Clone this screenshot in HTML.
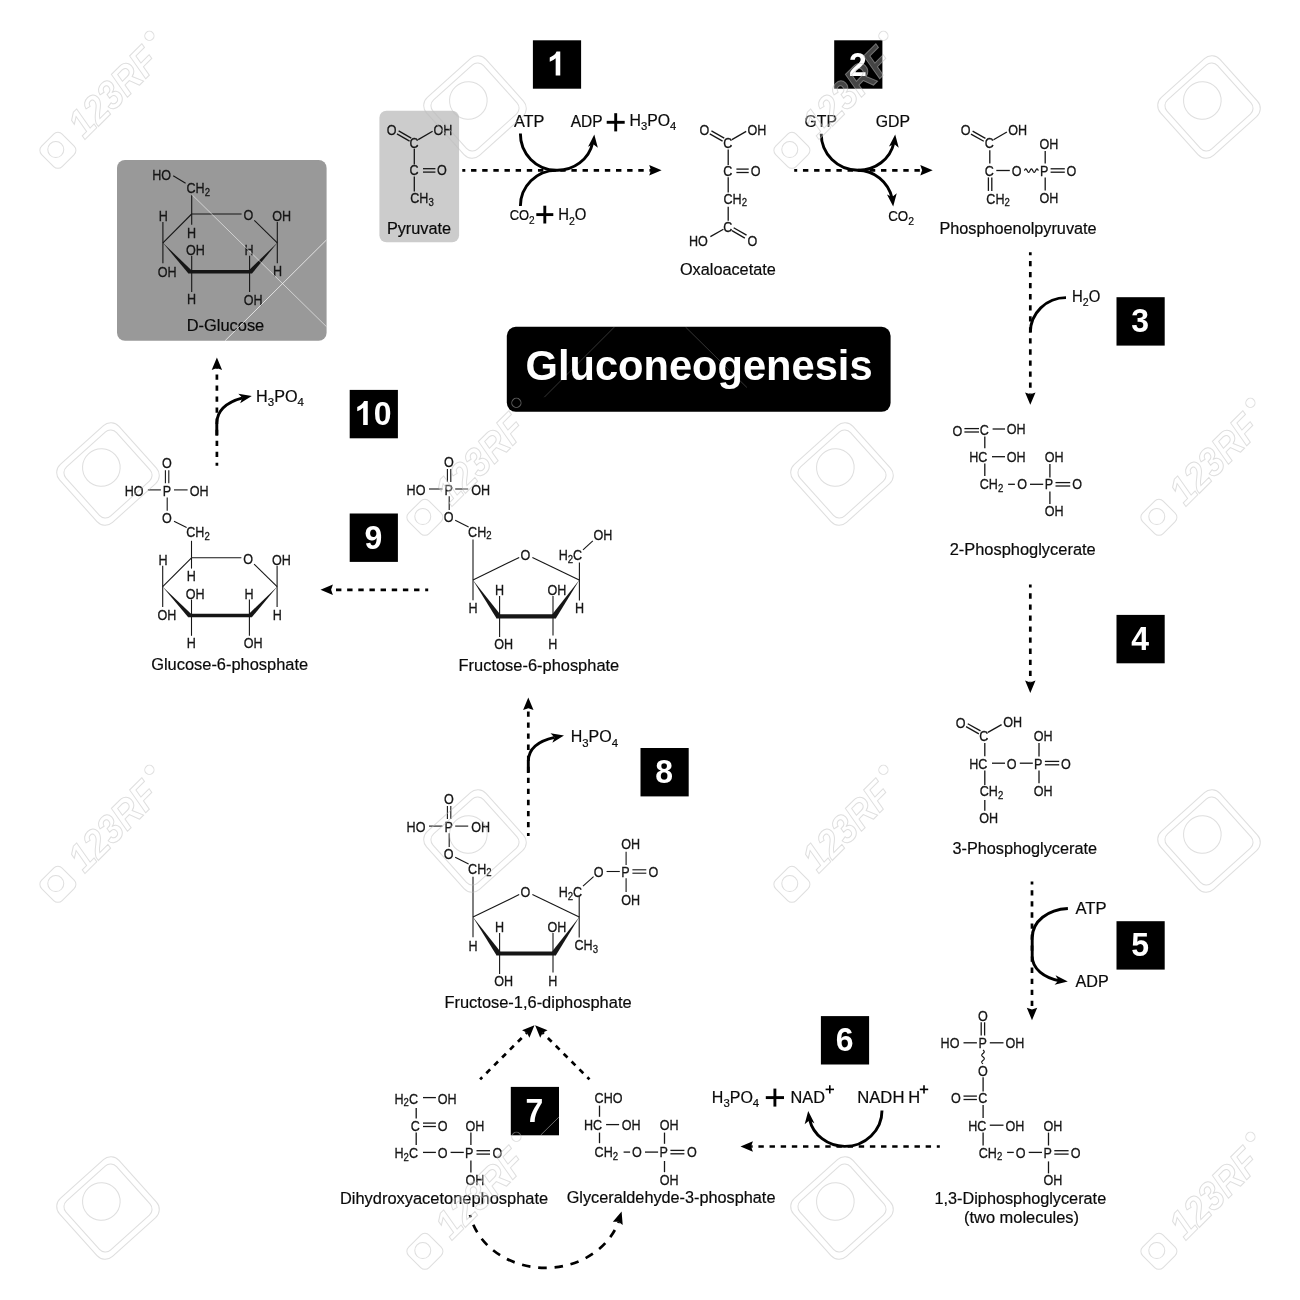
<!DOCTYPE html>
<html><head><meta charset="utf-8"><title>Gluconeogenesis</title>
<style>
html,body{margin:0;padding:0;background:#fff}
svg{display:block;filter:grayscale(1)}
text{font-family:"Liberation Sans",sans-serif;white-space:pre}
</style></head><body>
<svg width="1300" height="1300" viewBox="0 0 1300 1300">
<rect width="1300" height="1300" fill="#fff"/>
<rect x="117" y="160" width="209.6" height="180.8" rx="8" fill="#999"/>
<rect x="379.4" y="110.7" width="79.7" height="131.5" rx="7" fill="#ccc"/>
<rect x="506.8" y="326.8" width="383.8" height="85" rx="9" fill="#000"/>
<text transform="translate(525.54,379.6) scale(0.98,1)" font-size="42.5" fill="#fff" font-weight="bold"><tspan>Gluconeogenesis</tspan></text>
<rect x="532.9" y="40.3" width="48.2" height="48.4" fill="#000"/>
<path d="M560.27 75.5 H555.67 V58.18 Q553.16 60.53 549.74 61.66 V57.49 Q551.54 56.9 553.65 55.27 Q555.76 53.61 556.54 51.42 H560.27 Z" fill="#fff"/>
<rect x="834.2" y="40.3" width="48.2" height="48.4" fill="#000"/>
<text transform="translate(848.95,75.5) scale(0.94,1)" font-size="34" font-weight="bold" fill="#fff">2</text>
<rect x="1116.5" y="297.2" width="48.2" height="48.4" fill="#000"/>
<text transform="translate(1131.25,332.4) scale(0.94,1)" font-size="34" font-weight="bold" fill="#fff">3</text>
<rect x="1116.5" y="614.9" width="48.2" height="48.4" fill="#000"/>
<text transform="translate(1131.25,650.1) scale(0.94,1)" font-size="34" font-weight="bold" fill="#fff">4</text>
<rect x="1116.5" y="921.2" width="48.2" height="48.4" fill="#000"/>
<text transform="translate(1131.25,956.4) scale(0.94,1)" font-size="34" font-weight="bold" fill="#fff">5</text>
<rect x="820.9" y="1016.1" width="48.2" height="48.4" fill="#000"/>
<text transform="translate(835.65,1051.3) scale(0.94,1)" font-size="34" font-weight="bold" fill="#fff">6</text>
<rect x="510.8" y="1086.9" width="48.2" height="48.4" fill="#000"/>
<text transform="translate(525.55,1122.1) scale(0.94,1)" font-size="34" font-weight="bold" fill="#fff">7</text>
<rect x="640.5" y="748" width="48.2" height="48.4" fill="#000"/>
<text transform="translate(655.25,783.2) scale(0.94,1)" font-size="34" font-weight="bold" fill="#fff">8</text>
<rect x="349.7" y="513.5" width="48.2" height="48.4" fill="#000"/>
<text transform="translate(364.45,548.7) scale(0.94,1)" font-size="34" font-weight="bold" fill="#fff">9</text>
<rect x="349.7" y="389.9" width="48.2" height="48.4" fill="#000"/>
<path d="M367.76 425.1 H363.16 V407.78 Q360.64 410.13 357.22 411.26 V407.09 Q359.02 406.5 361.13 404.87 Q363.24 403.21 364.03 401.02 H367.76 Z" fill="#fff"/>
<text transform="translate(373.76,425.1) scale(0.94,1)" font-size="34" font-weight="bold" fill="#fff">0</text>
<line x1="191.7" y1="214" x2="241.6" y2="214" stroke="#161616" stroke-width="1.1"/>
<line x1="254.3" y1="220.3" x2="277.3" y2="242.9" stroke="#161616" stroke-width="1.1"/>
<line x1="162.9" y1="242.9" x2="191.7" y2="214" stroke="#161616" stroke-width="1.1"/>
<text transform="translate(243.53,220.29) scale(0.85,1)" font-size="14.8" fill="#161616" stroke="#161616" stroke-width="0.3"><tspan>O</tspan></text>
<polygon points="162.6,242.6 191.2,269.9 188.4,273.5" fill="#161616"/>
<polygon points="277.6,242.6 249.2,269.9 252,273.5" fill="#161616"/>
<line x1="188.4" y1="271.7" x2="252" y2="271.7" stroke="#161616" stroke-width="3.6"/>
<line x1="191.7" y1="214" x2="191.7" y2="224.8" stroke="#161616" stroke-width="1.1"/>
<text transform="translate(186.89,237.69) scale(0.85,1)" font-size="14.8" fill="#161616" stroke="#161616" stroke-width="0.3"><tspan>H</tspan></text>
<line x1="277.3" y1="221.9" x2="277.3" y2="263.2" stroke="#161616" stroke-width="1.1"/>
<text transform="translate(272.13,220.99) scale(0.85,1)" font-size="14.8" fill="#161616" stroke="#161616" stroke-width="0.3"><tspan>OH</tspan></text>
<text transform="translate(272.99,275.89) scale(0.85,1)" font-size="14.8" fill="#161616" stroke="#161616" stroke-width="0.3"><tspan>H</tspan></text>
<line x1="162.9" y1="221.9" x2="162.9" y2="263.2" stroke="#161616" stroke-width="1.1"/>
<text transform="translate(158.69,221.19) scale(0.85,1)" font-size="14.8" fill="#161616" stroke="#161616" stroke-width="0.3"><tspan>H</tspan></text>
<text transform="translate(157.73,276.69) scale(0.85,1)" font-size="14.8" fill="#161616" stroke="#161616" stroke-width="0.3"><tspan>OH</tspan></text>
<line x1="191.7" y1="255.7" x2="191.7" y2="292" stroke="#161616" stroke-width="1.1"/>
<text transform="translate(186.03,255.29) scale(0.85,1)" font-size="14.8" fill="#161616" stroke="#161616" stroke-width="0.3"><tspan>OH</tspan></text>
<text transform="translate(186.89,304.39) scale(0.85,1)" font-size="14.8" fill="#161616" stroke="#161616" stroke-width="0.3"><tspan>H</tspan></text>
<line x1="249.6" y1="255.7" x2="249.6" y2="292" stroke="#161616" stroke-width="1.1"/>
<text transform="translate(244.59,255.49) scale(0.85,1)" font-size="14.8" fill="#161616" stroke="#161616" stroke-width="0.3"><tspan>H</tspan></text>
<text transform="translate(243.83,304.69) scale(0.85,1)" font-size="14.8" fill="#161616" stroke="#161616" stroke-width="0.3"><tspan>OH</tspan></text>
<line x1="191.7" y1="195.2" x2="191.7" y2="214" stroke="#161616" stroke-width="1.1"/>
<text transform="translate(186.47,193.39) scale(0.85,1)" font-size="14.8" fill="#161616" stroke="#161616" stroke-width="0.3"><tspan>CH</tspan><tspan dy="2.52" font-size="11.25">2</tspan></text>
<line x1="173.2" y1="175.7" x2="185.6" y2="183.2" stroke="#161616" stroke-width="1.1"/>
<text transform="translate(152.29,179.69) scale(0.85,1)" font-size="14.8" fill="#161616" stroke="#161616" stroke-width="0.3"><tspan>HO</tspan></text>
<text transform="translate(186.69,330.7) scale(0.99,1)" font-size="16.6" fill="#0a0a0a" stroke="#0a0a0a" stroke-width="0.2"><tspan>D-Glucose</tspan></text>
<line x1="191.5" y1="557.8" x2="241.4" y2="557.8" stroke="#161616" stroke-width="1.1"/>
<line x1="254.1" y1="564.1" x2="277.1" y2="586.7" stroke="#161616" stroke-width="1.1"/>
<line x1="162.7" y1="586.7" x2="191.5" y2="557.8" stroke="#161616" stroke-width="1.1"/>
<text transform="translate(243.33,564.09) scale(0.85,1)" font-size="14.8" fill="#161616" stroke="#161616" stroke-width="0.3"><tspan>O</tspan></text>
<polygon points="162.4,586.4 191,613.7 188.2,617.3" fill="#161616"/>
<polygon points="277.4,586.4 249,613.7 251.8,617.3" fill="#161616"/>
<line x1="188.2" y1="615.5" x2="251.8" y2="615.5" stroke="#161616" stroke-width="3.6"/>
<line x1="191.5" y1="557.8" x2="191.5" y2="568.6" stroke="#161616" stroke-width="1.1"/>
<text transform="translate(186.69,581.49) scale(0.85,1)" font-size="14.8" fill="#161616" stroke="#161616" stroke-width="0.3"><tspan>H</tspan></text>
<line x1="277.1" y1="565.7" x2="277.1" y2="607" stroke="#161616" stroke-width="1.1"/>
<text transform="translate(271.93,564.79) scale(0.85,1)" font-size="14.8" fill="#161616" stroke="#161616" stroke-width="0.3"><tspan>OH</tspan></text>
<text transform="translate(272.79,619.69) scale(0.85,1)" font-size="14.8" fill="#161616" stroke="#161616" stroke-width="0.3"><tspan>H</tspan></text>
<line x1="162.7" y1="565.7" x2="162.7" y2="607" stroke="#161616" stroke-width="1.1"/>
<text transform="translate(158.49,564.99) scale(0.85,1)" font-size="14.8" fill="#161616" stroke="#161616" stroke-width="0.3"><tspan>H</tspan></text>
<text transform="translate(157.53,620.49) scale(0.85,1)" font-size="14.8" fill="#161616" stroke="#161616" stroke-width="0.3"><tspan>OH</tspan></text>
<line x1="191.5" y1="599.5" x2="191.5" y2="635.8" stroke="#161616" stroke-width="1.1"/>
<text transform="translate(185.83,599.09) scale(0.85,1)" font-size="14.8" fill="#161616" stroke="#161616" stroke-width="0.3"><tspan>OH</tspan></text>
<text transform="translate(186.69,648.19) scale(0.85,1)" font-size="14.8" fill="#161616" stroke="#161616" stroke-width="0.3"><tspan>H</tspan></text>
<line x1="249.4" y1="599.5" x2="249.4" y2="635.8" stroke="#161616" stroke-width="1.1"/>
<text transform="translate(244.39,599.29) scale(0.85,1)" font-size="14.8" fill="#161616" stroke="#161616" stroke-width="0.3"><tspan>H</tspan></text>
<text transform="translate(243.63,648.49) scale(0.85,1)" font-size="14.8" fill="#161616" stroke="#161616" stroke-width="0.3"><tspan>OH</tspan></text>
<line x1="191.5" y1="540.8" x2="191.5" y2="557.8" stroke="#161616" stroke-width="1.1"/>
<text transform="translate(186.27,537.49) scale(0.85,1)" font-size="14.8" fill="#161616" stroke="#161616" stroke-width="0.3"><tspan>CH</tspan><tspan dy="2.52" font-size="11.25">2</tspan></text>
<line x1="174" y1="521.2" x2="186.6" y2="527.6" stroke="#161616" stroke-width="1.1"/>
<text transform="translate(162.11,522.89) scale(0.85,1)" font-size="14.8" fill="#161616" stroke="#161616" stroke-width="0.3"><tspan>O</tspan></text>
<line x1="167.2" y1="497.6" x2="167.2" y2="510.8" stroke="#161616" stroke-width="1.1"/>
<text transform="translate(162.82,495.69) scale(0.85,1)" font-size="14.8" fill="#161616" stroke="#161616" stroke-width="0.3"><tspan>P</tspan></text>
<line x1="147.9" y1="489.9" x2="160.9" y2="489.9" stroke="#161616" stroke-width="1.1"/>
<line x1="174" y1="489.9" x2="187.6" y2="489.9" stroke="#161616" stroke-width="1.1"/>
<text transform="translate(124.79,495.69) scale(0.85,1)" font-size="14.8" fill="#161616" stroke="#161616" stroke-width="0.3"><tspan>HO</tspan></text>
<text transform="translate(189.73,495.69) scale(0.85,1)" font-size="14.8" fill="#161616" stroke="#161616" stroke-width="0.3"><tspan>OH</tspan></text>
<line x1="165.4" y1="470.2" x2="165.4" y2="483.3" stroke="#161616" stroke-width="1.1"/>
<line x1="168.8" y1="470.2" x2="168.8" y2="483.3" stroke="#161616" stroke-width="1.1"/>
<text transform="translate(162.11,468.09) scale(0.85,1)" font-size="14.8" fill="#161616" stroke="#161616" stroke-width="0.3"><tspan>O</tspan></text>
<text transform="translate(151.18,670.1) scale(0.99,1)" font-size="16.6" fill="#0a0a0a" stroke="#0a0a0a" stroke-width="0.2"><tspan>Glucose-6-phosphate</tspan></text>
<line x1="473" y1="580" x2="519.2" y2="557.5" stroke="#161616" stroke-width="1.1"/>
<line x1="532.4" y1="557.5" x2="579.2" y2="580" stroke="#161616" stroke-width="1.1"/>
<text transform="translate(520.61,559.79) scale(0.85,1)" font-size="14.8" fill="#161616" stroke="#161616" stroke-width="0.3"><tspan>O</tspan></text>
<polygon points="472.7,579.7 500.3,614.4 496.6,618.4" fill="#161616"/>
<polygon points="579.5,579.7 552.1,614.4 555.8,618.4" fill="#161616"/>
<line x1="496.6" y1="616.4" x2="555.8" y2="616.4" stroke="#161616" stroke-width="4.2"/>
<line x1="473" y1="539.6" x2="473" y2="600.2" stroke="#161616" stroke-width="1.1"/>
<text transform="translate(468.59,613.49) scale(0.85,1)" font-size="14.8" fill="#161616" stroke="#161616" stroke-width="0.3"><tspan>H</tspan></text>
<text transform="translate(468.07,536.69) scale(0.85,1)" font-size="14.8" fill="#161616" stroke="#161616" stroke-width="0.3"><tspan>CH</tspan><tspan dy="2.52" font-size="11.25">2</tspan></text>
<line x1="455.2" y1="520.2" x2="468.6" y2="527" stroke="#161616" stroke-width="1.1"/>
<text transform="translate(443.81,522.09) scale(0.85,1)" font-size="14.8" fill="#161616" stroke="#161616" stroke-width="0.3"><tspan>O</tspan></text>
<line x1="449.2" y1="496.2" x2="449.2" y2="510" stroke="#161616" stroke-width="1.1"/>
<text transform="translate(444.42,494.69) scale(0.85,1)" font-size="14.8" fill="#161616" stroke="#161616" stroke-width="0.3"><tspan>P</tspan></text>
<line x1="429" y1="489" x2="442.4" y2="489" stroke="#161616" stroke-width="1.1"/>
<line x1="455.2" y1="489" x2="468.2" y2="489" stroke="#161616" stroke-width="1.1"/>
<text transform="translate(406.59,494.69) scale(0.85,1)" font-size="14.8" fill="#161616" stroke="#161616" stroke-width="0.3"><tspan>HO</tspan></text>
<text transform="translate(471.13,494.69) scale(0.85,1)" font-size="14.8" fill="#161616" stroke="#161616" stroke-width="0.3"><tspan>OH</tspan></text>
<line x1="447.4" y1="469" x2="447.4" y2="482" stroke="#161616" stroke-width="1.1"/>
<line x1="450.8" y1="469" x2="450.8" y2="482" stroke="#161616" stroke-width="1.1"/>
<text transform="translate(443.91,467.39) scale(0.85,1)" font-size="14.8" fill="#161616" stroke="#161616" stroke-width="0.3"><tspan>O</tspan></text>
<line x1="499.6" y1="596" x2="499.6" y2="637" stroke="#161616" stroke-width="1.1"/>
<text transform="translate(495.09,595.09) scale(0.85,1)" font-size="14.8" fill="#161616" stroke="#161616" stroke-width="0.3"><tspan>H</tspan></text>
<text transform="translate(494.13,649.09) scale(0.85,1)" font-size="14.8" fill="#161616" stroke="#161616" stroke-width="0.3"><tspan>OH</tspan></text>
<line x1="553" y1="596" x2="553" y2="635.5" stroke="#161616" stroke-width="1.1"/>
<text transform="translate(547.53,595.29) scale(0.85,1)" font-size="14.8" fill="#161616" stroke="#161616" stroke-width="0.3"><tspan>OH</tspan></text>
<text transform="translate(548.19,649.09) scale(0.85,1)" font-size="14.8" fill="#161616" stroke="#161616" stroke-width="0.3"><tspan>H</tspan></text>
<line x1="579.4" y1="562.6" x2="579.4" y2="600.6" stroke="#161616" stroke-width="1.1"/>
<text transform="translate(575.09,613.49) scale(0.85,1)" font-size="14.8" fill="#161616" stroke="#161616" stroke-width="0.3"><tspan>H</tspan></text>
<text transform="translate(558.69,560.09) scale(0.85,1)" font-size="14.8" fill="#161616" stroke="#161616" stroke-width="0.3"><tspan>H</tspan><tspan dy="2.52" font-size="11.25">2</tspan><tspan dy="-2.52">C</tspan></text>
<line x1="583" y1="549.8" x2="592.8" y2="540.8" stroke="#161616" stroke-width="1.1"/>
<text transform="translate(593.53,539.89) scale(0.85,1)" font-size="14.8" fill="#161616" stroke="#161616" stroke-width="0.3"><tspan>OH</tspan></text>
<text transform="translate(458.59,670.7) scale(0.99,1)" font-size="16.6" fill="#0a0a0a" stroke="#0a0a0a" stroke-width="0.2"><tspan>Fructose-6-phosphate</tspan></text>
<line x1="473" y1="917.1" x2="519.2" y2="894.6" stroke="#161616" stroke-width="1.1"/>
<line x1="532.4" y1="894.6" x2="579.2" y2="917.1" stroke="#161616" stroke-width="1.1"/>
<text transform="translate(520.61,896.89) scale(0.85,1)" font-size="14.8" fill="#161616" stroke="#161616" stroke-width="0.3"><tspan>O</tspan></text>
<polygon points="472.7,916.8 500.3,951.5 496.6,955.5" fill="#161616"/>
<polygon points="579.5,916.8 552.1,951.5 555.8,955.5" fill="#161616"/>
<line x1="496.6" y1="953.5" x2="555.8" y2="953.5" stroke="#161616" stroke-width="4.2"/>
<line x1="473" y1="876.7" x2="473" y2="937.3" stroke="#161616" stroke-width="1.1"/>
<text transform="translate(468.59,950.59) scale(0.85,1)" font-size="14.8" fill="#161616" stroke="#161616" stroke-width="0.3"><tspan>H</tspan></text>
<text transform="translate(468.07,873.79) scale(0.85,1)" font-size="14.8" fill="#161616" stroke="#161616" stroke-width="0.3"><tspan>CH</tspan><tspan dy="2.52" font-size="11.25">2</tspan></text>
<line x1="455.2" y1="857.3" x2="468.6" y2="864.1" stroke="#161616" stroke-width="1.1"/>
<text transform="translate(443.81,859.19) scale(0.85,1)" font-size="14.8" fill="#161616" stroke="#161616" stroke-width="0.3"><tspan>O</tspan></text>
<line x1="449.2" y1="833.3" x2="449.2" y2="847.1" stroke="#161616" stroke-width="1.1"/>
<text transform="translate(444.42,831.79) scale(0.85,1)" font-size="14.8" fill="#161616" stroke="#161616" stroke-width="0.3"><tspan>P</tspan></text>
<line x1="429" y1="826.1" x2="442.4" y2="826.1" stroke="#161616" stroke-width="1.1"/>
<line x1="455.2" y1="826.1" x2="468.2" y2="826.1" stroke="#161616" stroke-width="1.1"/>
<text transform="translate(406.59,831.79) scale(0.85,1)" font-size="14.8" fill="#161616" stroke="#161616" stroke-width="0.3"><tspan>HO</tspan></text>
<text transform="translate(471.13,831.79) scale(0.85,1)" font-size="14.8" fill="#161616" stroke="#161616" stroke-width="0.3"><tspan>OH</tspan></text>
<line x1="447.4" y1="806.1" x2="447.4" y2="819.1" stroke="#161616" stroke-width="1.1"/>
<line x1="450.8" y1="806.1" x2="450.8" y2="819.1" stroke="#161616" stroke-width="1.1"/>
<text transform="translate(443.91,804.49) scale(0.85,1)" font-size="14.8" fill="#161616" stroke="#161616" stroke-width="0.3"><tspan>O</tspan></text>
<line x1="499.6" y1="933.1" x2="499.6" y2="974.1" stroke="#161616" stroke-width="1.1"/>
<text transform="translate(495.09,932.19) scale(0.85,1)" font-size="14.8" fill="#161616" stroke="#161616" stroke-width="0.3"><tspan>H</tspan></text>
<text transform="translate(494.13,986.19) scale(0.85,1)" font-size="14.8" fill="#161616" stroke="#161616" stroke-width="0.3"><tspan>OH</tspan></text>
<line x1="553" y1="933.1" x2="553" y2="972.6" stroke="#161616" stroke-width="1.1"/>
<text transform="translate(547.53,932.39) scale(0.85,1)" font-size="14.8" fill="#161616" stroke="#161616" stroke-width="0.3"><tspan>OH</tspan></text>
<text transform="translate(548.19,986.19) scale(0.85,1)" font-size="14.8" fill="#161616" stroke="#161616" stroke-width="0.3"><tspan>H</tspan></text>
<line x1="579.2" y1="895.7" x2="579.2" y2="937.5" stroke="#161616" stroke-width="1.1"/>
<text transform="translate(574.47,950.39) scale(0.85,1)" font-size="14.8" fill="#161616" stroke="#161616" stroke-width="0.3"><tspan>CH</tspan><tspan dy="2.52" font-size="11.25">3</tspan></text>
<text transform="translate(558.69,897.09) scale(0.85,1)" font-size="14.8" fill="#161616" stroke="#161616" stroke-width="0.3"><tspan>H</tspan><tspan dy="2.52" font-size="11.25">2</tspan><tspan dy="-2.52">C</tspan></text>
<line x1="583" y1="886.1" x2="593.6" y2="876.7" stroke="#161616" stroke-width="1.1"/>
<text transform="translate(593.71,876.59) scale(0.85,1)" font-size="14.8" fill="#161616" stroke="#161616" stroke-width="0.3"><tspan>O</tspan></text>
<line x1="606.6" y1="871.5" x2="619.8" y2="871.5" stroke="#161616" stroke-width="1.1"/>
<text transform="translate(621.32,876.59) scale(0.85,1)" font-size="14.8" fill="#161616" stroke="#161616" stroke-width="0.3"><tspan>P</tspan></text>
<line x1="632.4" y1="873.2" x2="646.3" y2="873.2" stroke="#161616" stroke-width="1.1"/>
<line x1="632.4" y1="869.8" x2="646.3" y2="869.8" stroke="#161616" stroke-width="1.1"/>
<text transform="translate(648.43,876.59) scale(0.85,1)" font-size="14.8" fill="#161616" stroke="#161616" stroke-width="0.3"><tspan>O</tspan></text>
<line x1="626.1" y1="851.7" x2="626.1" y2="865.1" stroke="#161616" stroke-width="1.1"/>
<line x1="626.1" y1="878.3" x2="626.1" y2="891.9" stroke="#161616" stroke-width="1.1"/>
<text transform="translate(621.13,849.49) scale(0.85,1)" font-size="14.8" fill="#161616" stroke="#161616" stroke-width="0.3"><tspan>OH</tspan></text>
<text transform="translate(621.13,904.59) scale(0.85,1)" font-size="14.8" fill="#161616" stroke="#161616" stroke-width="0.3"><tspan>OH</tspan></text>
<text transform="translate(444.49,1007.6) scale(0.99,1)" font-size="16.6" fill="#0a0a0a" stroke="#0a0a0a" stroke-width="0.2"><tspan>Fructose-1,6-diphosphate</tspan></text>
<text transform="translate(386.73,134.89) scale(0.85,1)" font-size="14.8" fill="#161616" stroke="#161616" stroke-width="0.3"><tspan>O</tspan></text>
<text transform="translate(433.53,134.89) scale(0.85,1)" font-size="14.8" fill="#161616" stroke="#161616" stroke-width="0.3"><tspan>OH</tspan></text>
<text transform="translate(409.47,148.19) scale(0.85,1)" font-size="14.8" fill="#161616" stroke="#161616" stroke-width="0.3"><tspan>C</tspan></text>
<text transform="translate(409.47,175.49) scale(0.85,1)" font-size="14.8" fill="#161616" stroke="#161616" stroke-width="0.3"><tspan>C</tspan></text>
<text transform="translate(437.03,175.49) scale(0.85,1)" font-size="14.8" fill="#161616" stroke="#161616" stroke-width="0.3"><tspan>O</tspan></text>
<text transform="translate(410.27,203.29) scale(0.85,1)" font-size="14.8" fill="#161616" stroke="#161616" stroke-width="0.3"><tspan>CH</tspan><tspan dy="2.52" font-size="11.25">3</tspan></text>
<line x1="396.96" y1="133.88" x2="409.56" y2="141.08" stroke="#161616" stroke-width="1.3"/>
<line x1="398.64" y1="130.92" x2="411.24" y2="138.12" stroke="#161616" stroke-width="1.3"/>
<line x1="418.2" y1="139.6" x2="432.6" y2="131.2" stroke="#161616" stroke-width="1.3"/>
<line x1="414.3" y1="148.8" x2="414.3" y2="164.4" stroke="#161616" stroke-width="1.3"/>
<line x1="414.3" y1="176.6" x2="414.3" y2="191.4" stroke="#161616" stroke-width="1.3"/>
<line x1="423" y1="172.1" x2="435.4" y2="172.1" stroke="#161616" stroke-width="1.3"/>
<line x1="423" y1="168.7" x2="435.4" y2="168.7" stroke="#161616" stroke-width="1.3"/>
<text transform="translate(386.89,234.1) scale(0.98,1)" font-size="16.6" fill="#0a0a0a" stroke="#0a0a0a" stroke-width="0.2"><tspan>Pyruvate</tspan></text>
<text transform="translate(699.43,134.89) scale(0.85,1)" font-size="14.8" fill="#161616" stroke="#161616" stroke-width="0.3"><tspan>O</tspan></text>
<text transform="translate(747.43,134.89) scale(0.85,1)" font-size="14.8" fill="#161616" stroke="#161616" stroke-width="0.3"><tspan>OH</tspan></text>
<text transform="translate(723.17,148.39) scale(0.85,1)" font-size="14.8" fill="#161616" stroke="#161616" stroke-width="0.3"><tspan>C</tspan></text>
<text transform="translate(723.17,175.89) scale(0.85,1)" font-size="14.8" fill="#161616" stroke="#161616" stroke-width="0.3"><tspan>C</tspan></text>
<text transform="translate(750.63,175.89) scale(0.85,1)" font-size="14.8" fill="#161616" stroke="#161616" stroke-width="0.3"><tspan>O</tspan></text>
<text transform="translate(723.47,203.89) scale(0.85,1)" font-size="14.8" fill="#161616" stroke="#161616" stroke-width="0.3"><tspan>CH</tspan><tspan dy="2.52" font-size="11.25">2</tspan></text>
<text transform="translate(723.17,231.89) scale(0.85,1)" font-size="14.8" fill="#161616" stroke="#161616" stroke-width="0.3"><tspan>C</tspan></text>
<text transform="translate(688.99,245.59) scale(0.85,1)" font-size="14.8" fill="#161616" stroke="#161616" stroke-width="0.3"><tspan>HO</tspan></text>
<text transform="translate(747.43,245.59) scale(0.85,1)" font-size="14.8" fill="#161616" stroke="#161616" stroke-width="0.3"><tspan>O</tspan></text>
<line x1="709.77" y1="133.88" x2="722.57" y2="141.08" stroke="#161616" stroke-width="1.3"/>
<line x1="711.43" y1="130.92" x2="724.23" y2="138.12" stroke="#161616" stroke-width="1.3"/>
<line x1="731.9" y1="139.6" x2="746.2" y2="131.4" stroke="#161616" stroke-width="1.3"/>
<line x1="728.2" y1="149.4" x2="728.2" y2="164.9" stroke="#161616" stroke-width="1.3"/>
<line x1="728.2" y1="177.2" x2="728.2" y2="192.5" stroke="#161616" stroke-width="1.3"/>
<line x1="728.2" y1="206.7" x2="728.2" y2="220.8" stroke="#161616" stroke-width="1.3"/>
<line x1="736.4" y1="172.5" x2="748.7" y2="172.5" stroke="#161616" stroke-width="1.3"/>
<line x1="736.4" y1="169.1" x2="748.7" y2="169.1" stroke="#161616" stroke-width="1.3"/>
<line x1="723.4" y1="229.2" x2="710.4" y2="236.6" stroke="#161616" stroke-width="1.3"/>
<line x1="731.95" y1="230.67" x2="744.85" y2="238.07" stroke="#161616" stroke-width="1.3"/>
<line x1="733.65" y1="227.73" x2="746.55" y2="235.13" stroke="#161616" stroke-width="1.3"/>
<text transform="translate(679.97,275.2) scale(0.98,1)" font-size="16.6" fill="#0a0a0a" stroke="#0a0a0a" stroke-width="0.2"><tspan>Oxaloacetate</tspan></text>
<text transform="translate(960.63,134.99) scale(0.85,1)" font-size="14.8" fill="#161616" stroke="#161616" stroke-width="0.3"><tspan>O</tspan></text>
<text transform="translate(1008.13,134.89) scale(0.85,1)" font-size="14.8" fill="#161616" stroke="#161616" stroke-width="0.3"><tspan>OH</tspan></text>
<text transform="translate(984.87,148.49) scale(0.85,1)" font-size="14.8" fill="#161616" stroke="#161616" stroke-width="0.3"><tspan>C</tspan></text>
<text transform="translate(984.87,175.59) scale(0.85,1)" font-size="14.8" fill="#161616" stroke="#161616" stroke-width="0.3"><tspan>C</tspan></text>
<text transform="translate(986.37,203.59) scale(0.85,1)" font-size="14.8" fill="#161616" stroke="#161616" stroke-width="0.3"><tspan>CH</tspan><tspan dy="2.52" font-size="11.25">2</tspan></text>
<text transform="translate(1011.63,175.59) scale(0.85,1)" font-size="14.8" fill="#161616" stroke="#161616" stroke-width="0.3"><tspan>O</tspan></text>
<text transform="translate(1039.92,175.59) scale(0.85,1)" font-size="14.8" fill="#161616" stroke="#161616" stroke-width="0.3"><tspan>P</tspan></text>
<text transform="translate(1066.53,175.59) scale(0.85,1)" font-size="14.8" fill="#161616" stroke="#161616" stroke-width="0.3"><tspan>O</tspan></text>
<text transform="translate(1039.43,148.59) scale(0.85,1)" font-size="14.8" fill="#161616" stroke="#161616" stroke-width="0.3"><tspan>OH</tspan></text>
<text transform="translate(1039.43,203.49) scale(0.85,1)" font-size="14.8" fill="#161616" stroke="#161616" stroke-width="0.3"><tspan>OH</tspan></text>
<line x1="970.97" y1="134.08" x2="983.77" y2="141.28" stroke="#161616" stroke-width="1.3"/>
<line x1="972.63" y1="131.12" x2="985.43" y2="138.32" stroke="#161616" stroke-width="1.3"/>
<line x1="993.5" y1="139.8" x2="1006.9" y2="132" stroke="#161616" stroke-width="1.3"/>
<line x1="989.8" y1="150.3" x2="989.8" y2="163.6" stroke="#161616" stroke-width="1.3"/>
<line x1="988.4" y1="177.4" x2="988.4" y2="190.9" stroke="#161616" stroke-width="1.3"/>
<line x1="991.8" y1="177.4" x2="991.8" y2="190.9" stroke="#161616" stroke-width="1.3"/>
<line x1="996.3" y1="170.5" x2="1009.8" y2="170.5" stroke="#161616" stroke-width="1.3"/>
<path d="M1024.4 170.6 L1024.75 169.95 L1025.1 169.4 L1025.45 169.03 L1025.8 168.9 L1026.15 169.03 L1026.5 169.4 L1026.85 169.95 L1027.2 170.6 L1027.55 171.25 L1027.9 171.8 L1028.25 172.17 L1028.6 172.3 L1028.95 172.17 L1029.3 171.8 L1029.65 171.25 L1030 170.6 L1030.35 169.95 L1030.7 169.4 L1031.05 169.03 L1031.4 168.9 L1031.75 169.03 L1032.1 169.4 L1032.45 169.95 L1032.8 170.6 L1033.15 171.25 L1033.5 171.8 L1033.85 172.17 L1034.2 172.3 L1034.55 172.17 L1034.9 171.8 L1035.25 171.25 L1035.6 170.6 L1035.95 169.95 L1036.3 169.4 L1036.65 169.03 L1037 168.9 L1037.35 169.03 L1037.7 169.4 L1038.05 169.95 L1038.4 170.6" fill="none" stroke="#161616" stroke-width="1.2"/>
<line x1="1050.6" y1="172.2" x2="1064.8" y2="172.2" stroke="#161616" stroke-width="1.3"/>
<line x1="1050.6" y1="168.8" x2="1064.8" y2="168.8" stroke="#161616" stroke-width="1.3"/>
<line x1="1045.2" y1="151" x2="1045.2" y2="163.6" stroke="#161616" stroke-width="1.3"/>
<line x1="1045.2" y1="177.4" x2="1045.2" y2="190.6" stroke="#161616" stroke-width="1.3"/>
<text transform="translate(939.39,233.8) scale(0.98,1)" font-size="16.6" fill="#0a0a0a" stroke="#0a0a0a" stroke-width="0.2"><tspan>Phosphoenolpyruvate</tspan></text>
<text transform="translate(952.53,435.69) scale(0.85,1)" font-size="14.8" fill="#161616" stroke="#161616" stroke-width="0.3"><tspan>O</tspan></text>
<line x1="964.4" y1="432" x2="979" y2="432" stroke="#161616" stroke-width="1.3"/>
<line x1="964.4" y1="428.6" x2="979" y2="428.6" stroke="#161616" stroke-width="1.3"/>
<text transform="translate(979.67,434.59) scale(0.85,1)" font-size="14.8" fill="#161616" stroke="#161616" stroke-width="0.3"><tspan>C</tspan></text>
<line x1="992.6" y1="429" x2="1005" y2="429" stroke="#161616" stroke-width="1.3"/>
<text transform="translate(1006.63,434.39) scale(0.85,1)" font-size="14.8" fill="#161616" stroke="#161616" stroke-width="0.3"><tspan>OH</tspan></text>
<line x1="984.8" y1="436.4" x2="984.8" y2="448.2" stroke="#161616" stroke-width="1.3"/>
<text transform="translate(969.19,462.09) scale(0.85,1)" font-size="14.8" fill="#161616" stroke="#161616" stroke-width="0.3"><tspan>HC</tspan></text>
<line x1="992" y1="456.7" x2="1005" y2="456.7" stroke="#161616" stroke-width="1.3"/>
<text transform="translate(1006.63,462.09) scale(0.85,1)" font-size="14.8" fill="#161616" stroke="#161616" stroke-width="0.3"><tspan>OH</tspan></text>
<line x1="984.8" y1="463.5" x2="984.8" y2="476" stroke="#161616" stroke-width="1.3"/>
<text transform="translate(979.77,489.49) scale(0.85,1)" font-size="14.8" fill="#161616" stroke="#161616" stroke-width="0.3"><tspan>CH</tspan><tspan dy="2.52" font-size="11.25">2</tspan></text>
<line x1="1008.1" y1="484.3" x2="1014.9" y2="484.3" stroke="#161616" stroke-width="1.3"/>
<text transform="translate(1017.23,489.49) scale(0.85,1)" font-size="14.8" fill="#161616" stroke="#161616" stroke-width="0.3"><tspan>O</tspan></text>
<line x1="1030" y1="484.3" x2="1043.2" y2="484.3" stroke="#161616" stroke-width="1.3"/>
<text transform="translate(1044.82,489.49) scale(0.85,1)" font-size="14.8" fill="#161616" stroke="#161616" stroke-width="0.3"><tspan>P</tspan></text>
<line x1="1055.5" y1="486" x2="1070.2" y2="486" stroke="#161616" stroke-width="1.3"/>
<line x1="1055.5" y1="482.6" x2="1070.2" y2="482.6" stroke="#161616" stroke-width="1.3"/>
<text transform="translate(1072.13,489.49) scale(0.85,1)" font-size="14.8" fill="#161616" stroke="#161616" stroke-width="0.3"><tspan>O</tspan></text>
<text transform="translate(1044.83,462.09) scale(0.85,1)" font-size="14.8" fill="#161616" stroke="#161616" stroke-width="0.3"><tspan>OH</tspan></text>
<text transform="translate(1044.83,516.09) scale(0.85,1)" font-size="14.8" fill="#161616" stroke="#161616" stroke-width="0.3"><tspan>OH</tspan></text>
<line x1="1049.9" y1="464" x2="1049.9" y2="477.6" stroke="#161616" stroke-width="1.3"/>
<line x1="1049.9" y1="491.6" x2="1049.9" y2="504" stroke="#161616" stroke-width="1.3"/>
<text transform="translate(949.68,554.9) scale(0.99,1)" font-size="16.6" fill="#0a0a0a" stroke="#0a0a0a" stroke-width="0.2"><tspan>2-Phosphoglycerate</tspan></text>
<text transform="translate(955.73,727.69) scale(0.85,1)" font-size="14.8" fill="#161616" stroke="#161616" stroke-width="0.3"><tspan>O</tspan></text>
<text transform="translate(1003.23,727.39) scale(0.85,1)" font-size="14.8" fill="#161616" stroke="#161616" stroke-width="0.3"><tspan>OH</tspan></text>
<text transform="translate(979.37,741.39) scale(0.85,1)" font-size="14.8" fill="#161616" stroke="#161616" stroke-width="0.3"><tspan>C</tspan></text>
<line x1="966.07" y1="726.68" x2="978.87" y2="733.88" stroke="#161616" stroke-width="1.3"/>
<line x1="967.73" y1="723.72" x2="980.53" y2="730.92" stroke="#161616" stroke-width="1.3"/>
<line x1="987.9" y1="732.4" x2="1001.6" y2="724.6" stroke="#161616" stroke-width="1.3"/>
<line x1="984.8" y1="742.9" x2="984.8" y2="756.2" stroke="#161616" stroke-width="1.3"/>
<text transform="translate(969.19,768.69) scale(0.85,1)" font-size="14.8" fill="#161616" stroke="#161616" stroke-width="0.3"><tspan>HC</tspan></text>
<line x1="992" y1="763.2" x2="1005" y2="763.2" stroke="#161616" stroke-width="1.3"/>
<text transform="translate(1006.63,768.69) scale(0.85,1)" font-size="14.8" fill="#161616" stroke="#161616" stroke-width="0.3"><tspan>O</tspan></text>
<line x1="1019.8" y1="763.2" x2="1032.8" y2="763.2" stroke="#161616" stroke-width="1.3"/>
<text transform="translate(1034.02,768.69) scale(0.85,1)" font-size="14.8" fill="#161616" stroke="#161616" stroke-width="0.3"><tspan>P</tspan></text>
<line x1="1044.9" y1="764.8" x2="1059.2" y2="764.8" stroke="#161616" stroke-width="1.3"/>
<line x1="1044.9" y1="761.4" x2="1059.2" y2="761.4" stroke="#161616" stroke-width="1.3"/>
<text transform="translate(1061.03,768.69) scale(0.85,1)" font-size="14.8" fill="#161616" stroke="#161616" stroke-width="0.3"><tspan>O</tspan></text>
<text transform="translate(1033.73,741.49) scale(0.85,1)" font-size="14.8" fill="#161616" stroke="#161616" stroke-width="0.3"><tspan>OH</tspan></text>
<text transform="translate(1033.73,796.19) scale(0.85,1)" font-size="14.8" fill="#161616" stroke="#161616" stroke-width="0.3"><tspan>OH</tspan></text>
<line x1="1039" y1="742.9" x2="1039" y2="756.6" stroke="#161616" stroke-width="1.3"/>
<line x1="1039" y1="770.5" x2="1039" y2="783.2" stroke="#161616" stroke-width="1.3"/>
<line x1="984.8" y1="770.5" x2="984.8" y2="784.9" stroke="#161616" stroke-width="1.3"/>
<text transform="translate(979.77,796.49) scale(0.85,1)" font-size="14.8" fill="#161616" stroke="#161616" stroke-width="0.3"><tspan>CH</tspan><tspan dy="2.52" font-size="11.25">2</tspan></text>
<line x1="984.8" y1="800" x2="984.8" y2="810.8" stroke="#161616" stroke-width="1.3"/>
<text transform="translate(979.13,822.89) scale(0.85,1)" font-size="14.8" fill="#161616" stroke="#161616" stroke-width="0.3"><tspan>OH</tspan></text>
<text transform="translate(952.43,853.5) scale(0.98,1)" font-size="16.6" fill="#0a0a0a" stroke="#0a0a0a" stroke-width="0.2"><tspan>3-Phosphoglycerate</tspan></text>
<text transform="translate(977.91,1020.79) scale(0.85,1)" font-size="14.8" fill="#161616" stroke="#161616" stroke-width="0.3"><tspan>O</tspan></text>
<line x1="981.2" y1="1022.3" x2="981.2" y2="1035.5" stroke="#161616" stroke-width="1.3"/>
<line x1="984.6" y1="1022.3" x2="984.6" y2="1035.5" stroke="#161616" stroke-width="1.3"/>
<text transform="translate(978.42,1048.19) scale(0.85,1)" font-size="14.8" fill="#161616" stroke="#161616" stroke-width="0.3"><tspan>P</tspan></text>
<text transform="translate(940.59,1048.19) scale(0.85,1)" font-size="14.8" fill="#161616" stroke="#161616" stroke-width="0.3"><tspan>HO</tspan></text>
<line x1="963.5" y1="1042.8" x2="976.9" y2="1042.8" stroke="#161616" stroke-width="1.3"/>
<line x1="989.8" y1="1042.8" x2="1003.5" y2="1042.8" stroke="#161616" stroke-width="1.3"/>
<text transform="translate(1005.43,1048.19) scale(0.85,1)" font-size="14.8" fill="#161616" stroke="#161616" stroke-width="0.3"><tspan>OH</tspan></text>
<path d="M983 1050 L983.39 1050.35 L983.73 1050.69 L984.01 1051.04 L984.19 1051.38 L984.25 1051.72 L984.19 1052.07 L984.01 1052.41 L983.73 1052.76 L983.39 1053.11 L983 1053.45 L982.61 1053.8 L982.27 1054.14 L981.99 1054.48 L981.81 1054.83 L981.75 1055.17 L981.81 1055.52 L981.99 1055.87 L982.27 1056.21 L982.61 1056.56 L983 1056.9 L983.39 1057.24 L983.73 1057.59 L984.01 1057.93 L984.19 1058.28 L984.25 1058.62 L984.19 1058.97 L984.01 1059.32 L983.73 1059.66 L983.39 1060 L983 1060.35 L982.61 1060.69 L982.27 1061.04 L981.99 1061.38 L981.81 1061.73 L981.75 1062.08 L981.81 1062.42 L981.99 1062.76 L982.27 1063.11 L982.61 1063.45 L983 1063.8" fill="none" stroke="#161616" stroke-width="1.2"/>
<text transform="translate(977.91,1075.69) scale(0.85,1)" font-size="14.8" fill="#161616" stroke="#161616" stroke-width="0.3"><tspan>O</tspan></text>
<line x1="983.1" y1="1077.2" x2="983.1" y2="1091.4" stroke="#161616" stroke-width="1.3"/>
<text transform="translate(978.17,1103.29) scale(0.85,1)" font-size="14.8" fill="#161616" stroke="#161616" stroke-width="0.3"><tspan>C</tspan></text>
<line x1="963.5" y1="1099.5" x2="976.9" y2="1099.5" stroke="#161616" stroke-width="1.3"/>
<line x1="963.5" y1="1096.1" x2="976.9" y2="1096.1" stroke="#161616" stroke-width="1.3"/>
<text transform="translate(951.03,1103.29) scale(0.85,1)" font-size="14.8" fill="#161616" stroke="#161616" stroke-width="0.3"><tspan>O</tspan></text>
<line x1="983.1" y1="1105" x2="983.1" y2="1117.9" stroke="#161616" stroke-width="1.3"/>
<text transform="translate(968.19,1130.59) scale(0.85,1)" font-size="14.8" fill="#161616" stroke="#161616" stroke-width="0.3"><tspan>HC</tspan></text>
<line x1="989.8" y1="1125.2" x2="1003.5" y2="1125.2" stroke="#161616" stroke-width="1.3"/>
<text transform="translate(1005.43,1130.59) scale(0.85,1)" font-size="14.8" fill="#161616" stroke="#161616" stroke-width="0.3"><tspan>OH</tspan></text>
<line x1="983.1" y1="1132.6" x2="983.1" y2="1145.5" stroke="#161616" stroke-width="1.3"/>
<text transform="translate(978.77,1157.69) scale(0.85,1)" font-size="14.8" fill="#161616" stroke="#161616" stroke-width="0.3"><tspan>CH</tspan><tspan dy="2.52" font-size="11.25">2</tspan></text>
<line x1="1007.1" y1="1152.4" x2="1013.8" y2="1152.4" stroke="#161616" stroke-width="1.3"/>
<text transform="translate(1015.73,1157.69) scale(0.85,1)" font-size="14.8" fill="#161616" stroke="#161616" stroke-width="0.3"><tspan>O</tspan></text>
<line x1="1028.7" y1="1152.4" x2="1042" y2="1152.4" stroke="#161616" stroke-width="1.3"/>
<text transform="translate(1043.52,1157.69) scale(0.85,1)" font-size="14.8" fill="#161616" stroke="#161616" stroke-width="0.3"><tspan>P</tspan></text>
<line x1="1054.3" y1="1154.1" x2="1068.6" y2="1154.1" stroke="#161616" stroke-width="1.3"/>
<line x1="1054.3" y1="1150.7" x2="1068.6" y2="1150.7" stroke="#161616" stroke-width="1.3"/>
<text transform="translate(1070.63,1157.69) scale(0.85,1)" font-size="14.8" fill="#161616" stroke="#161616" stroke-width="0.3"><tspan>O</tspan></text>
<text transform="translate(1043.53,1130.59) scale(0.85,1)" font-size="14.8" fill="#161616" stroke="#161616" stroke-width="0.3"><tspan>OH</tspan></text>
<text transform="translate(1043.53,1184.99) scale(0.85,1)" font-size="14.8" fill="#161616" stroke="#161616" stroke-width="0.3"><tspan>OH</tspan></text>
<line x1="1048.5" y1="1132.6" x2="1048.5" y2="1145.5" stroke="#161616" stroke-width="1.3"/>
<line x1="1048.5" y1="1161.4" x2="1048.5" y2="1173.4" stroke="#161616" stroke-width="1.3"/>
<text transform="translate(934.48,1203.8) scale(0.98,1)" font-size="16.6" fill="#0a0a0a" stroke="#0a0a0a" stroke-width="0.2"><tspan>1,3-Diphosphoglycerate</tspan></text>
<text transform="translate(964.01,1222.8) scale(0.99,1)" font-size="16.6" fill="#0a0a0a" stroke="#0a0a0a" stroke-width="0.2"><tspan>(two molecules)</tspan></text>
<text transform="translate(394.49,1103.69) scale(0.85,1)" font-size="14.8" fill="#161616" stroke="#161616" stroke-width="0.3"><tspan>H</tspan><tspan dy="2.52" font-size="11.25">2</tspan><tspan dy="-2.52">C</tspan></text>
<line x1="423" y1="1097.6" x2="435.9" y2="1097.6" stroke="#161616" stroke-width="1.3"/>
<text transform="translate(437.83,1103.69) scale(0.85,1)" font-size="14.8" fill="#161616" stroke="#161616" stroke-width="0.3"><tspan>OH</tspan></text>
<line x1="416.2" y1="1108" x2="416.2" y2="1118.4" stroke="#161616" stroke-width="1.3"/>
<text transform="translate(410.67,1130.59) scale(0.85,1)" font-size="14.8" fill="#161616" stroke="#161616" stroke-width="0.3"><tspan>C</tspan></text>
<line x1="423" y1="1126.5" x2="435.9" y2="1126.5" stroke="#161616" stroke-width="1.3"/>
<line x1="423" y1="1123.1" x2="435.9" y2="1123.1" stroke="#161616" stroke-width="1.3"/>
<text transform="translate(437.63,1130.59) scale(0.85,1)" font-size="14.8" fill="#161616" stroke="#161616" stroke-width="0.3"><tspan>O</tspan></text>
<line x1="416.2" y1="1132.6" x2="416.2" y2="1145" stroke="#161616" stroke-width="1.3"/>
<text transform="translate(394.49,1158.09) scale(0.85,1)" font-size="14.8" fill="#161616" stroke="#161616" stroke-width="0.3"><tspan>H</tspan><tspan dy="2.52" font-size="11.25">2</tspan><tspan dy="-2.52">C</tspan></text>
<line x1="423" y1="1152.4" x2="435.9" y2="1152.4" stroke="#161616" stroke-width="1.3"/>
<text transform="translate(437.63,1158.09) scale(0.85,1)" font-size="14.8" fill="#161616" stroke="#161616" stroke-width="0.3"><tspan>O</tspan></text>
<line x1="450.6" y1="1152.4" x2="463.8" y2="1152.4" stroke="#161616" stroke-width="1.3"/>
<text transform="translate(465.12,1158.09) scale(0.85,1)" font-size="14.8" fill="#161616" stroke="#161616" stroke-width="0.3"><tspan>P</tspan></text>
<line x1="476.5" y1="1154.1" x2="490" y2="1154.1" stroke="#161616" stroke-width="1.3"/>
<line x1="476.5" y1="1150.7" x2="490" y2="1150.7" stroke="#161616" stroke-width="1.3"/>
<text transform="translate(492.43,1158.09) scale(0.85,1)" font-size="14.8" fill="#161616" stroke="#161616" stroke-width="0.3"><tspan>O</tspan></text>
<text transform="translate(465.43,1130.59) scale(0.85,1)" font-size="14.8" fill="#161616" stroke="#161616" stroke-width="0.3"><tspan>OH</tspan></text>
<text transform="translate(465.43,1185.29) scale(0.85,1)" font-size="14.8" fill="#161616" stroke="#161616" stroke-width="0.3"><tspan>OH</tspan></text>
<line x1="470.9" y1="1132.6" x2="470.9" y2="1145" stroke="#161616" stroke-width="1.3"/>
<line x1="470.9" y1="1160.6" x2="470.9" y2="1172.6" stroke="#161616" stroke-width="1.3"/>
<text transform="translate(339.99,1203.5) scale(0.99,1)" font-size="16.6" fill="#0a0a0a" stroke="#0a0a0a" stroke-width="0.2"><tspan>Dihydroxyacetonephosphate</tspan></text>
<text transform="translate(594.57,1103.19) scale(0.85,1)" font-size="14.8" fill="#161616" stroke="#161616" stroke-width="0.3"><tspan>CHO</tspan></text>
<line x1="599.5" y1="1105.6" x2="599.5" y2="1116.8" stroke="#161616" stroke-width="1.3"/>
<text transform="translate(583.99,1130.29) scale(0.85,1)" font-size="14.8" fill="#161616" stroke="#161616" stroke-width="0.3"><tspan>HC</tspan></text>
<line x1="606.1" y1="1124.6" x2="619.1" y2="1124.6" stroke="#161616" stroke-width="1.3"/>
<text transform="translate(621.63,1130.29) scale(0.85,1)" font-size="14.8" fill="#161616" stroke="#161616" stroke-width="0.3"><tspan>OH</tspan></text>
<line x1="599.5" y1="1132.6" x2="599.5" y2="1143.2" stroke="#161616" stroke-width="1.3"/>
<text transform="translate(594.57,1157.49) scale(0.85,1)" font-size="14.8" fill="#161616" stroke="#161616" stroke-width="0.3"><tspan>CH</tspan><tspan dy="2.52" font-size="11.25">2</tspan></text>
<line x1="623.6" y1="1152.1" x2="630.1" y2="1152.1" stroke="#161616" stroke-width="1.3"/>
<text transform="translate(632.03,1157.49) scale(0.85,1)" font-size="14.8" fill="#161616" stroke="#161616" stroke-width="0.3"><tspan>O</tspan></text>
<line x1="645" y1="1152.1" x2="658.1" y2="1152.1" stroke="#161616" stroke-width="1.3"/>
<text transform="translate(659.52,1157.49) scale(0.85,1)" font-size="14.8" fill="#161616" stroke="#161616" stroke-width="0.3"><tspan>P</tspan></text>
<line x1="670.4" y1="1153.8" x2="684.4" y2="1153.8" stroke="#161616" stroke-width="1.3"/>
<line x1="670.4" y1="1150.4" x2="684.4" y2="1150.4" stroke="#161616" stroke-width="1.3"/>
<text transform="translate(687.03,1157.49) scale(0.85,1)" font-size="14.8" fill="#161616" stroke="#161616" stroke-width="0.3"><tspan>O</tspan></text>
<text transform="translate(659.63,1130.29) scale(0.85,1)" font-size="14.8" fill="#161616" stroke="#161616" stroke-width="0.3"><tspan>OH</tspan></text>
<text transform="translate(659.63,1185.19) scale(0.85,1)" font-size="14.8" fill="#161616" stroke="#161616" stroke-width="0.3"><tspan>OH</tspan></text>
<line x1="664.5" y1="1132.6" x2="664.5" y2="1143.8" stroke="#161616" stroke-width="1.3"/>
<line x1="664.5" y1="1161" x2="664.5" y2="1172.2" stroke="#161616" stroke-width="1.3"/>
<text transform="translate(566.68,1202.7) scale(0.98,1)" font-size="16.6" fill="#0a0a0a" stroke="#0a0a0a" stroke-width="0.2"><tspan>Glyceraldehyde-3-phosphate</tspan></text>
<path d="M462.3 170.3 L651 170.3" fill="none" stroke="#000" stroke-width="2.7" stroke-dasharray="5.4 5.75" stroke-dashoffset="2.4"/>
<polygon points="661.6,170.3 649.2,175.5 651,170.3 649.2,165.1" fill="#000"/>
<path d="M520.4 133.6 A35.8 36.2 0 0 0 556.2 170.2 A36 34 0 0 0 592.6 143" fill="none" stroke="#000" stroke-width="2.9"/>
<polygon points="594.3,134.6 597.84,147.84 593.3,144.15 588.09,146.82" fill="#000"/>
<path d="M520.4 206 A35.8 35.8 0 0 1 556.2 170.4" fill="none" stroke="#000" stroke-width="2.9"/>
<text transform="translate(513.9,127) scale(1.02,1)" font-size="16" fill="#0a0a0a" stroke="#0a0a0a" stroke-width="0.2"><tspan>ATP</tspan></text>
<text transform="translate(570.7,127) scale(0.97,1)" font-size="16" fill="#0a0a0a" stroke="#0a0a0a" stroke-width="0.2"><tspan>ADP</tspan></text>
<line x1="606.7" y1="122.3" x2="624.7" y2="122.3" stroke="#000" stroke-width="2.9"/>
<line x1="615.7" y1="113.2" x2="615.7" y2="131.4" stroke="#000" stroke-width="2.9"/>
<text transform="translate(629.53,125.6) scale(0.99,1)" font-size="16" fill="#0a0a0a" stroke="#0a0a0a" stroke-width="0.2"><tspan>H</tspan><tspan dy="4.32" font-size="11.36">3</tspan><tspan dy="-4.32">PO</tspan><tspan dy="4.32" font-size="11.36">4</tspan></text>
<text transform="translate(509.66,220.3) scale(0.91,1)" font-size="14.2" fill="#0a0a0a" stroke="#0a0a0a" stroke-width="0.2"><tspan>CO</tspan><tspan dy="3.83" font-size="11.08">2</tspan></text>
<line x1="536.3" y1="214.6" x2="553.3" y2="214.6" stroke="#000" stroke-width="2.9"/>
<line x1="544.8" y1="205.7" x2="544.8" y2="223.5" stroke="#000" stroke-width="2.9"/>
<text transform="translate(558.21,220.3) scale(0.93,1)" font-size="16" fill="#0a0a0a" stroke="#0a0a0a" stroke-width="0.2"><tspan>H</tspan><tspan dy="4.32" font-size="11.36">2</tspan><tspan dy="-4.32">O</tspan></text>
<path d="M794.2 170.3 L922.1 170.3" fill="none" stroke="#000" stroke-width="2.7" stroke-dasharray="5.4 5.75" stroke-dashoffset="2.4"/>
<polygon points="932.7,170.3 920.3,175.5 922.1,170.3 920.3,165.1" fill="#000"/>
<path d="M821.2 133.8 A36.6 36.4 0 0 0 857.8 170.2 A36 34 0 0 0 893.8 143" fill="none" stroke="#000" stroke-width="2.9"/>
<polygon points="895.2,134.4 898.74,147.64 894.2,143.95 888.99,146.62" fill="#000"/>
<path d="M857.8 170.3 A35.4 36 0 0 1 892 198" fill="none" stroke="#000" stroke-width="2.9"/>
<polygon points="893.2,206.6 886.99,194.38 892.2,197.05 896.74,193.36" fill="#000"/>
<text transform="translate(804.41,127.4) scale(0.99,1)" font-size="16" fill="#0a0a0a" stroke="#0a0a0a" stroke-width="0.2"><tspan>GTP</tspan></text>
<text transform="translate(875.81,127.4) scale(0.99,1)" font-size="16" fill="#0a0a0a" stroke="#0a0a0a" stroke-width="0.2"><tspan>GDP</tspan></text>
<text transform="translate(888.23,221) scale(0.94,1)" font-size="14.2" fill="#0a0a0a" stroke="#0a0a0a" stroke-width="0.2"><tspan>CO</tspan><tspan dy="3.83" font-size="11.08">2</tspan></text>
<path d="M1030.3 252.2 L1030.3 394.2" fill="none" stroke="#000" stroke-width="2.7" stroke-dasharray="5.3 5.75" stroke-dashoffset="2.3"/>
<polygon points="1030.3,404.8 1025.1,392.4 1030.3,394.2 1035.5,392.4" fill="#000"/>
<path d="M1066 297.6 A35.7 35 0 0 0 1030.3 332.6" fill="none" stroke="#000" stroke-width="2.9"/>
<text transform="translate(1072,301.8) scale(0.92,1)" font-size="16.2" fill="#0a0a0a" stroke="#0a0a0a" stroke-width="0.2"><tspan>H</tspan><tspan dy="4.37" font-size="11.5">2</tspan><tspan dy="-4.37">O</tspan></text>
<path d="M1030.3 584.6 L1030.3 682.4" fill="none" stroke="#000" stroke-width="2.7" stroke-dasharray="5.3 5.75" stroke-dashoffset="2.3"/>
<polygon points="1030.3,693 1025.1,680.6 1030.3,682.4 1035.5,680.6" fill="#000"/>
<path d="M1032 881.5 L1032 1009.6" fill="none" stroke="#000" stroke-width="2.7" stroke-dasharray="5.3 5.75" stroke-dashoffset="2.3"/>
<polygon points="1032,1020.2 1026.8,1007.8 1032,1009.6 1037.2,1007.8" fill="#000"/>
<path d="M1067.9 908.5 C1048 909.5 1032.2 921 1032.2 938 L1032.2 956 C1032.2 969 1044 977.6 1059.6 980.8" fill="none" stroke="#000" stroke-width="2.9"/>
<polygon points="1067.8,981.4 1054.57,984.84 1058.45,980.42 1055.57,975.29" fill="#000"/>
<text transform="translate(1075.5,914.2) scale(1.04,1)" font-size="16" fill="#0a0a0a" stroke="#0a0a0a" stroke-width="0.2"><tspan>ATP</tspan></text>
<text transform="translate(1075.5,986.8) scale(1.01,1)" font-size="16" fill="#0a0a0a" stroke="#0a0a0a" stroke-width="0.2"><tspan>ADP</tspan></text>
<path d="M939.8 1146.5 L751.1 1146.5" fill="none" stroke="#000" stroke-width="2.7" stroke-dasharray="5.4 5.75" stroke-dashoffset="2.4"/>
<polygon points="740.5,1146.5 752.9,1141.3 751.1,1146.5 752.9,1151.7" fill="#000"/>
<path d="M882 1110.4 A37.2 36 0 0 1 844.6 1146.4 A36.4 34 0 0 1 809.6 1119.6" fill="none" stroke="#000" stroke-width="2.9"/>
<polygon points="808.2,1111 814.41,1123.22 809.2,1120.55 804.66,1124.24" fill="#000"/>
<text transform="translate(711.82,1103.1) scale(1,1)" font-size="16" fill="#0a0a0a" stroke="#0a0a0a" stroke-width="0.2"><tspan>H</tspan><tspan dy="4.32" font-size="11.36">3</tspan><tspan dy="-4.32">PO</tspan><tspan dy="4.32" font-size="11.36">4</tspan></text>
<line x1="765.8" y1="1097.6" x2="784" y2="1097.6" stroke="#000" stroke-width="2.9"/>
<line x1="774.9" y1="1088.6" x2="774.9" y2="1106.6" stroke="#000" stroke-width="2.9"/>
<text transform="translate(790.59,1103.1) scale(1.02,1)" font-size="16" fill="#0a0a0a" stroke="#0a0a0a" stroke-width="0.2"><tspan>NAD</tspan></text>
<line x1="825.6" y1="1089.4" x2="834" y2="1089.4" stroke="#000" stroke-width="1.6"/>
<line x1="829.8" y1="1085.2" x2="829.8" y2="1093.6" stroke="#000" stroke-width="1.6"/>
<text transform="translate(857.27,1103.1) scale(1.04,1)" font-size="16" fill="#0a0a0a" stroke="#0a0a0a" stroke-width="0.2"><tspan>NADH</tspan></text>
<text transform="translate(908.28,1103.1) scale(1.03,1)" font-size="16" fill="#0a0a0a" stroke="#0a0a0a" stroke-width="0.2"><tspan>H</tspan></text>
<line x1="919.8" y1="1089.4" x2="928.2" y2="1089.4" stroke="#000" stroke-width="1.6"/>
<line x1="924" y1="1085.2" x2="924" y2="1093.6" stroke="#000" stroke-width="1.6"/>
<path d="M480.1 1079.4 L526.99 1032.68" fill="none" stroke="#000" stroke-width="2.7" stroke-dasharray="5.4 5.75" stroke-dashoffset="2.4"/>
<polygon points="534.5,1025.2 529.39,1037.64 526.99,1032.68 522.05,1030.27" fill="#000"/>
<path d="M589.5 1079.4 L542.61 1032.68" fill="none" stroke="#000" stroke-width="2.7" stroke-dasharray="5.4 5.75" stroke-dashoffset="2.4"/>
<polygon points="535.1,1025.2 547.55,1030.27 542.61,1032.68 540.21,1037.64" fill="#000"/>
<path d="M470 1215 C478 1247 510 1267.8 545 1267.8 C582 1267.8 609 1247 618.6 1222" fill="none" stroke="#000" stroke-width="2.7" stroke-dasharray="8.5 7.8" stroke-dashoffset="6"/>
<polygon points="621.6,1211.6 622.71,1225 618.32,1221.68 612.82,1221.79" fill="#000"/>
<path d="M528.3 836 L528.3 708.2" fill="none" stroke="#000" stroke-width="2.7" stroke-dasharray="5.3 5.75" stroke-dashoffset="2.3"/>
<polygon points="528.3,697.6 533.5,710 528.3,708.2 523.1,710" fill="#000"/>
<path d="M528.3 773 L528.3 761 C528.5 750.5 535 741.6 554.6 737.3" fill="none" stroke="#000" stroke-width="2.9"/>
<polygon points="564,735.6 552.37,742.85 554.58,737.43 550.5,733.23" fill="#000"/>
<text transform="translate(570.72,742.2) scale(1,1)" font-size="16" fill="#0a0a0a" stroke="#0a0a0a" stroke-width="0.2"><tspan>H</tspan><tspan dy="4.32" font-size="11.36">3</tspan><tspan dy="-4.32">PO</tspan><tspan dy="4.32" font-size="11.36">4</tspan></text>
<path d="M428.2 589.8 L331.1 589.8" fill="none" stroke="#000" stroke-width="2.7" stroke-dasharray="5.4 5.75" stroke-dashoffset="2.4"/>
<polygon points="320.5,589.8 332.9,584.6 331.1,589.8 332.9,595" fill="#000"/>
<path d="M216.9 465.8 L216.9 368.1" fill="none" stroke="#000" stroke-width="2.7" stroke-dasharray="5.3 5.75" stroke-dashoffset="2.3"/>
<polygon points="216.9,357.5 222.1,369.9 216.9,368.1 211.7,369.9" fill="#000"/>
<path d="M216.8 435.8 L216.8 423 C217 412.5 223.6 403 242.6 397.8" fill="none" stroke="#000" stroke-width="2.9"/>
<polygon points="251.8,396 240.17,403.25 242.38,397.83 238.3,393.63" fill="#000"/>
<text transform="translate(256.11,401.6) scale(1.01,1)" font-size="16" fill="#0a0a0a" stroke="#0a0a0a" stroke-width="0.2"><tspan>H</tspan><tspan dy="4.32" font-size="11.36">3</tspan><tspan dy="-4.32">PO</tspan><tspan dy="4.32" font-size="11.36">4</tspan></text>
<line x1="192.3" y1="195" x2="326.4" y2="326.6" stroke="#fff" stroke-opacity="0.8" stroke-width="0.7"/>
<line x1="326.4" y1="240" x2="225.2" y2="340.6" stroke="#fff" stroke-opacity="0.8" stroke-width="0.9"/>
<line x1="614.4" y1="327" x2="544.3" y2="397.2" stroke="#fff" stroke-opacity="0.35" stroke-width="0.6"/>
<line x1="685.5" y1="327" x2="746.9" y2="387.5" stroke="#fff" stroke-opacity="0.35" stroke-width="0.6"/>
<line x1="558.9" y1="1117.1" x2="540.6" y2="1135.2" stroke="#fff" stroke-opacity="0.6" stroke-width="0.7"/>
<g transform="translate(57.9,150.3) rotate(-45)" fill="#fff" fill-opacity="0.27" stroke="#bdbdbd" stroke-opacity="0.5" stroke-width="1">
<rect x="-14.5" y="-14.5" width="29" height="29" rx="6"/><circle cx="-1" cy="-2" r="8" fill="none"/>
<text transform="translate(26,11.6) scale(0.9,1)" font-size="40" font-weight="bold" font-style="italic">123RF</text>
<circle cx="145.6" cy="-16.2" r="4.6" fill="none"/></g>
<g transform="translate(475,107) rotate(-42)" fill="none" stroke="#bdbdbd" stroke-opacity="0.5" stroke-width="1">
<rect x="-40" y="-39" width="80" height="78" rx="11"/><rect x="-34" y="-33" width="68" height="66" rx="8"/><circle cx="-0.6" cy="-9.3" r="18.8"/></g>
<g transform="translate(791.9,150.3) rotate(-45)" fill="#fff" fill-opacity="0.27" stroke="#bdbdbd" stroke-opacity="0.5" stroke-width="1">
<rect x="-14.5" y="-14.5" width="29" height="29" rx="6"/><circle cx="-1" cy="-2" r="8" fill="none"/>
<text transform="translate(26,11.6) scale(0.9,1)" font-size="40" font-weight="bold" font-style="italic">123RF</text>
<circle cx="145.6" cy="-16.2" r="4.6" fill="none"/></g>
<g transform="translate(1209,107) rotate(-42)" fill="none" stroke="#bdbdbd" stroke-opacity="0.5" stroke-width="1">
<rect x="-40" y="-39" width="80" height="78" rx="11"/><rect x="-34" y="-33" width="68" height="66" rx="8"/><circle cx="-0.6" cy="-9.3" r="18.8"/></g>
<g transform="translate(108,474) rotate(-42)" fill="none" stroke="#bdbdbd" stroke-opacity="0.5" stroke-width="1">
<rect x="-40" y="-39" width="80" height="78" rx="11"/><rect x="-34" y="-33" width="68" height="66" rx="8"/><circle cx="-0.6" cy="-9.3" r="18.8"/></g>
<g transform="translate(424.9,517.3) rotate(-45)" fill="#fff" fill-opacity="0.27" stroke="#bdbdbd" stroke-opacity="0.5" stroke-width="1">
<rect x="-14.5" y="-14.5" width="29" height="29" rx="6"/><circle cx="-1" cy="-2" r="8" fill="none"/>
<text transform="translate(26,11.6) scale(0.9,1)" font-size="40" font-weight="bold" font-style="italic">123RF</text>
<circle cx="145.6" cy="-16.2" r="4.6" fill="none"/></g>
<g transform="translate(842,474) rotate(-42)" fill="none" stroke="#bdbdbd" stroke-opacity="0.5" stroke-width="1">
<rect x="-40" y="-39" width="80" height="78" rx="11"/><rect x="-34" y="-33" width="68" height="66" rx="8"/><circle cx="-0.6" cy="-9.3" r="18.8"/></g>
<g transform="translate(1158.9,517.3) rotate(-45)" fill="#fff" fill-opacity="0.27" stroke="#bdbdbd" stroke-opacity="0.5" stroke-width="1">
<rect x="-14.5" y="-14.5" width="29" height="29" rx="6"/><circle cx="-1" cy="-2" r="8" fill="none"/>
<text transform="translate(26,11.6) scale(0.9,1)" font-size="40" font-weight="bold" font-style="italic">123RF</text>
<circle cx="145.6" cy="-16.2" r="4.6" fill="none"/></g>
<g transform="translate(57.9,884.3) rotate(-45)" fill="#fff" fill-opacity="0.27" stroke="#bdbdbd" stroke-opacity="0.5" stroke-width="1">
<rect x="-14.5" y="-14.5" width="29" height="29" rx="6"/><circle cx="-1" cy="-2" r="8" fill="none"/>
<text transform="translate(26,11.6) scale(0.9,1)" font-size="40" font-weight="bold" font-style="italic">123RF</text>
<circle cx="145.6" cy="-16.2" r="4.6" fill="none"/></g>
<g transform="translate(475,841) rotate(-42)" fill="none" stroke="#bdbdbd" stroke-opacity="0.5" stroke-width="1">
<rect x="-40" y="-39" width="80" height="78" rx="11"/><rect x="-34" y="-33" width="68" height="66" rx="8"/><circle cx="-0.6" cy="-9.3" r="18.8"/></g>
<g transform="translate(791.9,884.3) rotate(-45)" fill="#fff" fill-opacity="0.27" stroke="#bdbdbd" stroke-opacity="0.5" stroke-width="1">
<rect x="-14.5" y="-14.5" width="29" height="29" rx="6"/><circle cx="-1" cy="-2" r="8" fill="none"/>
<text transform="translate(26,11.6) scale(0.9,1)" font-size="40" font-weight="bold" font-style="italic">123RF</text>
<circle cx="145.6" cy="-16.2" r="4.6" fill="none"/></g>
<g transform="translate(1209,841) rotate(-42)" fill="none" stroke="#bdbdbd" stroke-opacity="0.5" stroke-width="1">
<rect x="-40" y="-39" width="80" height="78" rx="11"/><rect x="-34" y="-33" width="68" height="66" rx="8"/><circle cx="-0.6" cy="-9.3" r="18.8"/></g>
<g transform="translate(108,1208) rotate(-42)" fill="none" stroke="#bdbdbd" stroke-opacity="0.5" stroke-width="1">
<rect x="-40" y="-39" width="80" height="78" rx="11"/><rect x="-34" y="-33" width="68" height="66" rx="8"/><circle cx="-0.6" cy="-9.3" r="18.8"/></g>
<g transform="translate(424.9,1251.3) rotate(-45)" fill="#fff" fill-opacity="0.27" stroke="#bdbdbd" stroke-opacity="0.5" stroke-width="1">
<rect x="-14.5" y="-14.5" width="29" height="29" rx="6"/><circle cx="-1" cy="-2" r="8" fill="none"/>
<text transform="translate(26,11.6) scale(0.9,1)" font-size="40" font-weight="bold" font-style="italic">123RF</text>
<circle cx="145.6" cy="-16.2" r="4.6" fill="none"/></g>
<g transform="translate(842,1208) rotate(-42)" fill="none" stroke="#bdbdbd" stroke-opacity="0.5" stroke-width="1">
<rect x="-40" y="-39" width="80" height="78" rx="11"/><rect x="-34" y="-33" width="68" height="66" rx="8"/><circle cx="-0.6" cy="-9.3" r="18.8"/></g>
<g transform="translate(1158.9,1251.3) rotate(-45)" fill="#fff" fill-opacity="0.27" stroke="#bdbdbd" stroke-opacity="0.5" stroke-width="1">
<rect x="-14.5" y="-14.5" width="29" height="29" rx="6"/><circle cx="-1" cy="-2" r="8" fill="none"/>
<text transform="translate(26,11.6) scale(0.9,1)" font-size="40" font-weight="bold" font-style="italic">123RF</text>
<circle cx="145.6" cy="-16.2" r="4.6" fill="none"/></g>
</svg>
</body></html>
